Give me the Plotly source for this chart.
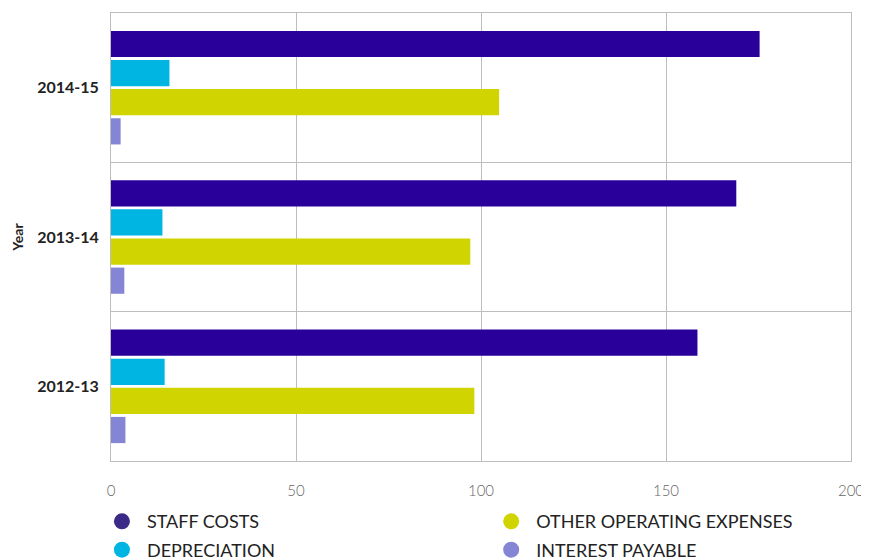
import plotly.graph_objects as go

years = ["2012-13", "2013-14", "2014-15"]
series_names = ["STAFF COSTS", "DEPRECIATION", "OTHER OPERATING EXPENSES", "INTEREST PAYABLE"]
staff_costs = [158.5, 169.0, 175.3]
depreciation = [14.5, 13.9, 15.8]
other_operating = [98.2, 97.1, 104.9]
interest_payable = [3.9, 3.6, 2.6]
x_ticks = [0, 50, 100, 150, 200]

colors = {
    "STAFF COSTS": "#290099",
    "DEPRECIATION": "#00B5E2",
    "OTHER OPERATING EXPENSES": "#D0D400",
    "INTEREST PAYABLE": "#8585D6",
}
legend_colors = {
    "STAFF COSTS": "#3B2A88",
    "DEPRECIATION": "#00B5E2",
    "OTHER OPERATING EXPENSES": "#D0D400",
    "INTEREST PAYABLE": "#8585D6",
}
values = {
    "STAFF COSTS": staff_costs,
    "DEPRECIATION": depreciation,
    "OTHER OPERATING EXPENSES": other_operating,
    "INTEREST PAYABLE": interest_payable,
}
legend_column = {
    "STAFF COSTS": "legend",
    "DEPRECIATION": "legend",
    "OTHER OPERATING EXPENSES": "legend2",
    "INTEREST PAYABLE": "legend2",
}

fig = go.Figure()
# bars: first trace is drawn at the bottom of each group
for name in reversed(series_names):
    fig.add_trace(go.Bar(
        x=values[name], y=years, orientation="h", name=name,
        marker=dict(color=colors[name], line=dict(width=0)),
        showlegend=False,
    ))
# legend entries with circle markers
for name in series_names:
    fig.add_trace(go.Scatter(
        x=[None], y=[None], mode="markers", name=name,
        marker=dict(color=legend_colors[name], size=19, symbol="circle"),
        legend=legend_column[name], legendgroup=name, showlegend=True,
    ))

legend_common = dict(
    orientation="v", yanchor="top", xanchor="left",
    font=dict(size=18, color="#222222"),
    traceorder="grouped", tracegroupgap=2, itemsizing="trace", itemwidth=40,
    bgcolor="rgba(0,0,0,0)",
)

# page body has an 8px margin, so the figure is sized to fit the 869x559 window
fig.update_layout(
    width=861, height=551,
    margin=dict(l=103, r=18, t=5, b=98, autoexpand=False),
    paper_bgcolor="white", plot_bgcolor="white",
    barmode="group", bargap=0.22, bargroupgap=0.1,
    font=dict(family="Lato", color="#222222"),
    legend=dict(x=-0.019, y=-0.094, **legend_common),
    legend2=dict(x=0.507, y=-0.094, **legend_common),
    showlegend=True,
)
fig.update_xaxes(
    range=[0, 200], tickvals=x_ticks, ticktext=[str(v) for v in x_ticks],
    showgrid=True, gridcolor="#BDBDBD", gridwidth=1,
    showline=True, linecolor="#BDBDBD", linewidth=1, mirror=True,
    zeroline=False, ticks="", ticklabelstandoff=16, ticklabeloverflow="allow",
    tickfont=dict(size=15, color="#666666", weight=300),
)
fig.update_yaxes(
    categoryorder="array", categoryarray=years,
    tickson="boundaries", showgrid=True, gridcolor="#BDBDBD", gridwidth=1,
    showline=True, linecolor="#BDBDBD", linewidth=1, mirror=True,
    ticks="", ticklabelstandoff=8,
    tickfont=dict(size=16, color="#222222", weight="bold"),
    title=dict(text="Year", font=dict(size=14, color="#222222", weight="bold"), standoff=10),
)

fig.write_html("out.html")
